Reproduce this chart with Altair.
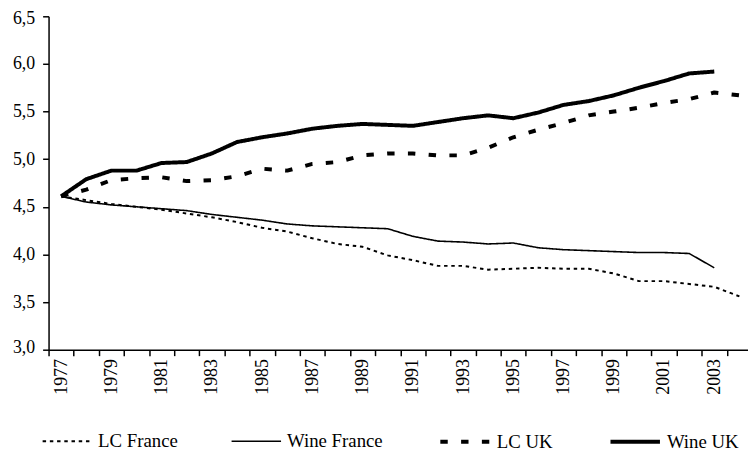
import altair as alt
import pandas as pd

years = list(range(1977, 2005))
series_names = ["LC France", "Wine France", "LC UK", "Wine UK"]

lc_france = [4.61, 4.57, 4.53, 4.50, 4.47, 4.43, 4.39, 4.34, 4.28, 4.24, 4.17, 4.11, 4.08, 3.99,
             3.94, 3.88, 3.88, 3.84, 3.85, 3.86, 3.85, 3.85, 3.80, 3.72, 3.72, 3.69, 3.66, 3.56]
wine_france = [4.61, 4.55, 4.52, 4.50, 4.48, 4.46, 4.42, 4.39, 4.36, 4.32, 4.30, 4.29, 4.28, 4.27,
               4.19, 4.14, 4.13, 4.11, 4.12, 4.07, 4.05, 4.04, 4.03, 4.02, 4.02, 4.01, 3.86]
lc_uk = [4.61, 4.68, 4.78, 4.80, 4.81, 4.77, 4.78, 4.82, 4.90, 4.88, 4.95, 4.97, 5.04, 5.06,
         5.06, 5.04, 5.04, 5.12, 5.23, 5.31, 5.38, 5.46, 5.50, 5.54, 5.59, 5.63, 5.70, 5.67]
wine_uk = [4.61, 4.79, 4.88, 4.88, 4.96, 4.97, 5.06, 5.18, 5.23, 5.27, 5.32, 5.35, 5.37, 5.36,
           5.35, 5.39, 5.43, 5.46, 5.43, 5.49, 5.57, 5.61, 5.67, 5.75, 5.82, 5.90, 5.92]

y_ticks = [3.0, 3.5, 4.0, 4.5, 5.0, 5.5, 6.0, 6.5]
x_ticks = [y - 0.5 for y in years] + [years[-1] + 0.5]

rows = []
for name, vals in zip(series_names, [lc_france, wine_france, lc_uk, wine_uk]):
    for yr, v in zip(years, vals):
        rows.append({"year": yr, "value": v, "series": name})
df = pd.DataFrame(rows)

FONT = "Liberation Serif"

legend_kw = dict(
    orient="none", legendX=-7, legendY=403, direction="horizontal", title=None,
    symbolType="stroke", symbolSize=2500, symbolStrokeColor="black",
    labelFont=FONT, labelFontSize=19, labelColor="black", labelOffset=5,
    columnPadding=50, padding=0,
)

chart = alt.Chart(df).mark_line(color="black", strokeCap="butt", strokeJoin="round").encode(
    x=alt.X("year:Q",
            scale=alt.Scale(domain=[1976.5, 2004.5], range=[0, 711], nice=False, zero=False),
            axis=alt.Axis(values=x_ticks, title=None, grid=False,
                          labelExpr="((datum.value - 1976.5) % 2 == 0 && datum.value < 2004) ? toString(datum.value + 0.5) : ''",
                          labelOffset=12.7, labelAngle=-90, labelOverlap=False,
                          labelFont=FONT, labelFontSize=18, labelColor="black", labelPadding=3,
                          tickSize=6, tickColor="black", tickWidth=1.5,
                          domainColor="black", domainWidth=1.5)),
    y=alt.Y("value:Q",
            scale=alt.Scale(domain=[3, 6.5], nice=False, zero=False),
            axis=alt.Axis(values=y_ticks, title=None, grid=False,
                          labelExpr="replace(format(datum.value, '.1f'), '.', ',')",
                          labelFont=FONT, labelFontSize=18, labelColor="black", labelPadding=8,
                          labelFlush=True, labelFlushOffset=7,
                          tickSize=6, tickColor="black", tickWidth=1.5,
                          domainColor="black", domainWidth=1.5)),
    strokeDash=alt.StrokeDash("series:N",
                              scale=alt.Scale(domain=series_names,
                                              range=[[3.5, 3.8], [1, 0], [7.5, 13.5], [1, 0]]),
                              legend=alt.Legend(**legend_kw)),
    strokeWidth=alt.StrokeWidth("series:N",
                                scale=alt.Scale(type="ordinal", domain=series_names,
                                                range=[2, 1.6, 4, 4]),
                                legend=alt.Legend(**legend_kw)),
    detail="series:N",
).properties(
    width=707, height=337,
    padding={"left": 41, "top": 6, "right": 0, "bottom": 100},
    autosize=alt.AutoSizeParams(type="none"),
).configure_view(stroke=None)

chart.save("out.html", embed_options={"renderer": "svg", "actions": False})
